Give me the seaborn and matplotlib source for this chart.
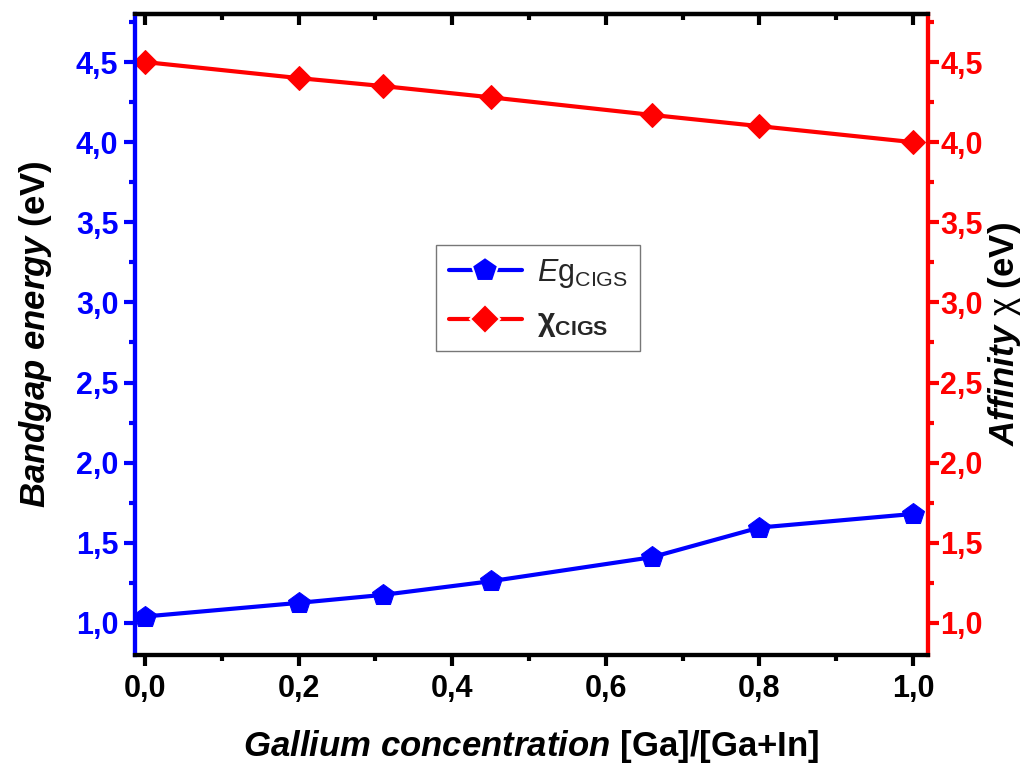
import matplotlib.pyplot as plt
import pandas as pd
import seaborn as sns
from matplotlib.lines import Line2D
from matplotlib.ticker import MultipleLocator, FuncFormatter

sns.set_theme(style="white")
plt.rcParams['font.family'] = ['Liberation Sans', 'DejaVu Sans']
plt.rcParams['mathtext.fontset'] = 'custom'
plt.rcParams['mathtext.rm'] = 'Liberation Sans'
plt.rcParams['mathtext.it'] = 'Liberation Sans:italic'
plt.rcParams['mathtext.bf'] = 'Liberation Sans:bold'
plt.rcParams['mathtext.bfit'] = 'Liberation Sans:bold:italic'

ga = [0.0, 0.2, 0.31, 0.45, 0.66, 0.8, 1.0]
eg = [1.04, 1.125, 1.175, 1.26, 1.41, 1.595, 1.68]
chi = [4.50, 4.40, 4.35, 4.28, 4.17, 4.10, 4.00]

df = pd.DataFrame({"ga": ga, "eg": eg, "chi": chi})

BLUE = "#0000ff"
RED = "#ff0000"
comma = FuncFormatter(lambda v, p: f"{v:.1f}".replace(".", ","))

fig = plt.figure(figsize=(10.28, 7.72), dpi=100)
ax = fig.add_axes([0.1313, 0.1516, 0.7714, 0.8303])
ax2 = ax.twinx()

sns.lineplot(data=df, x="ga", y="eg", ax=ax, color=BLUE, lw=3, marker="p",
             markersize=16, markeredgecolor=BLUE, legend=False)
sns.lineplot(data=df, x="ga", y="chi", ax=ax2, color=RED, lw=3, marker="D",
             markersize=12, markeredgecolor=RED, legend=False)

for a in (ax, ax2):
    a.set_ylim(0.8, 4.8)
    a.yaxis.set_major_locator(MultipleLocator(0.5))
    a.yaxis.set_minor_locator(MultipleLocator(0.25))
    a.yaxis.set_major_formatter(comma)
ax.set_xlim(-0.013, 1.0195)
ax.xaxis.set_major_locator(MultipleLocator(0.2))
ax.xaxis.set_minor_locator(MultipleLocator(0.1))
ax.xaxis.set_major_formatter(comma)

for a in (ax, ax2):
    for s in ("top", "bottom", "left", "right"):
        a.spines[s].set_linewidth(3)
    a.spines["top"].set_color("black")
    a.spines["bottom"].set_color("black")
    a.spines["left"].set_color(BLUE)
    a.spines["right"].set_color(RED)

ax.tick_params(axis="x", which="both", direction="out", bottom=True, width=3,
               colors="black", labelsize=22, pad=6)
ax.tick_params(axis="x", which="major", length=8)
ax.tick_params(axis="x", which="minor", length=4)
ax.tick_params(axis="y", which="both", direction="out", left=True, width=3,
               colors=BLUE, labelsize=22, pad=4)
ax.tick_params(axis="y", which="major", length=8)
ax.tick_params(axis="y", which="minor", length=4)
ax2.tick_params(axis="y", which="both", direction="out", right=True, width=3,
                colors=RED, labelsize=22, pad=1)
ax2.tick_params(axis="y", which="major", length=8)
ax2.tick_params(axis="y", which="minor", length=4)
for lab in ax.get_xticklabels() + ax.get_yticklabels() + ax2.get_yticklabels():
    lab.set_fontweight("bold")

top = ax.secondary_xaxis("top")
top.xaxis.set_major_locator(MultipleLocator(0.2))
top.xaxis.set_minor_locator(MultipleLocator(0.1))
top.tick_params(axis="x", which="both", direction="in", width=3, labeltop=False, colors="black")
top.tick_params(axis="x", which="major", length=8)
top.tick_params(axis="x", which="minor", length=4)
top.spines["top"].set_linewidth(3)
top.spines["top"].set_color("black")

ax.set_xlabel(r"$\mathbfit{Gallium\ concentration}$ [Ga]/[Ga+In]",
              fontsize=25, fontweight="bold", color="black", labelpad=17)
ax.set_ylabel(r"$\mathbfit{Bandgap\ energy}$ (eV)", fontsize=25,
              fontweight="bold", color="black", labelpad=16)
ax2.set_ylabel(r"$\mathbfit{Affinity}$ $\mathrm{\chi}$ (eV)", fontsize=25,
               fontweight="bold", color="black", labelpad=2)

handles = [
    Line2D([], [], color=BLUE, lw=3, marker="p", markersize=19,
           markerfacecolor=BLUE, markeredgecolor="white", markeredgewidth=1.5),
    Line2D([], [], color=RED, lw=3, marker="D", markersize=15,
           markerfacecolor=RED, markeredgecolor="white", markeredgewidth=1.5),
]
labels = [r"$\mathit{E}$g$_{\mathrm{CIGS}}$", r"$\mathbf{\chi}_{\mathbf{CIGS}}$"]
leg = ax2.legend(handles, labels, loc="upper left", bbox_to_anchor=(0.38, 0.64),
                 fontsize=22, frameon=True, fancybox=False, edgecolor="#555555",
                 handlelength=2.4, handletextpad=0.5, borderpad=0.4,
                 labelspacing=0.55, borderaxespad=0)
leg.get_frame().set_linewidth(1)

fig.savefig("out.png", dpi=100)
